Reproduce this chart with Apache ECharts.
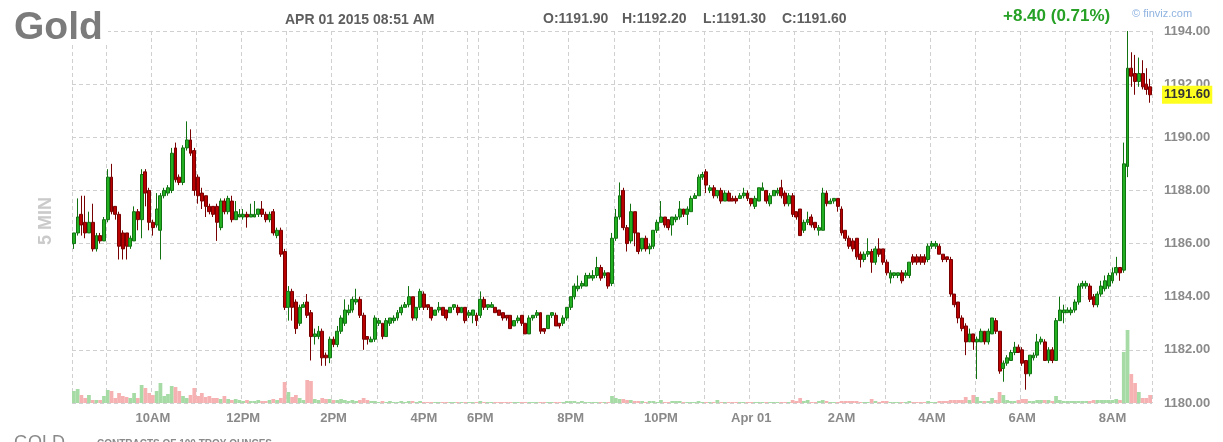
<!DOCTYPE html>
<html><head><meta charset="utf-8">
<script src="https://cdn.jsdelivr.net/npm/echarts@6/dist/echarts.min.js"></script>
<style>html,body{margin:0;padding:0;background:#fff;}#c{width:1223px;height:442px;}</style>
</head><body><div id="c"></div>
<script>
// Trading sessions (5-minute bars), UTC-like wall clock
const sessionStarts = ['2015-03-31T08:15:00Z', '2015-03-31T18:00:00Z'];
const sessionEnds   = ['2015-03-31T17:10:00Z', '2015-04-01T08:50:00Z'];
const yTicks = [1180, 1194, 2];
const lastInfo = { date: 'APR 01 2015 08:51 AM', o: '1191.90', h: '1192.20', l: '1191.30', c: '1191.60', chg: '+8.40 (0.71%)' };

const opens = [
1186.0,1186.4,1187.1,1186.8,1186.4,1186.8,1185.8,1186.3,1186.1,1186.9,
1188.5,1187.4,1187.1,1186.4,1186.4,1185.9,1186.1,1187.2,1186.9,1188.7,
1188.0,1186.8,1186.7,1186.5,1187.8,1187.9,1188.0,1189.6,1188.5,1188.3,
1189.6,1189.9,1189.5,1188.5,1187.9,1187.8,1187.4,1187.4,1187.4,1186.6,
1187.6,1187.2,1187.6,1186.9,1187.0,1187.0,1187.1,1187.0,1187.0,1187.1,
1187.3,1187.1,1186.9,1187.2,1186.3,1186.5,1185.7,1183.6,1184.2,1183.8,
1183.0,1183.6,1183.8,1183.4,1182.5,1182.5,1182.7,1181.8,1181.7,1182.4,
1182.2,1182.7,1183.0,1183.4,1183.5,1183.8,1183.9,1183.3,1182.5,1182.3,
1182.4,1183.0,1183.0,1182.5,1183.0,1183.1,1183.2,1183.4,1183.6,1183.7,
1184.0,1183.2,1183.6,1184.1,1183.7,1183.6,1183.3,1183.5,1183.6,1183.5,
1183.4,1183.6,1183.6,1183.4,1183.6,1183.3,1183.3,1183.3,1183.3,1183.9,
1183.6,1183.6,1183.6,1183.5,1183.4,1183.3,1183.3,1182.9,1183.1,1183.3,
1183.0,1182.6,1183.2,1183.3,1183.4,1182.8,1182.8,1183.3,1183.3,1183.0,
1183.0,1183.2,1183.6,1184.0,1184.3,1184.4,1184.4,1184.7,1184.7,1184.8,
1185.1,1184.8,1184.9,1184.5,1186.2,1187.0,1188.0,1186.6,1186.1,1187.2,
1186.4,1185.8,1186.2,1185.8,1185.9,1186.5,1186.8,1187.0,1186.9,1186.7,
1186.9,1187.0,1187.3,1187.1,1187.2,1187.7,1187.8,1188.5,1188.7,1188.0,
1188.1,1187.8,1188.0,1187.6,1187.9,1187.7,1187.7,1187.7,1187.8,1187.9,
1187.7,1187.4,1187.6,1188.0,1188.0,1187.5,1187.8,1187.9,1188.1,1187.9,
1187.5,1187.8,1187.2,1187.3,1186.5,1186.8,1187.0,1186.8,1186.5,1186.5,
1187.9,1187.5,1187.6,1187.7,1187.3,1186.5,1186.2,1186.1,1186.2,1185.6,
1185.4,1185.6,1185.7,1185.3,1185.8,1185.8,1185.3,1184.7,1184.8,1184.8,
1184.9,1184.8,1184.8,1185.5,1185.5,1185.5,1185.5,1185.4,1185.9,1185.9,
1185.9,1185.6,1185.5,1185.4,1184.1,1183.8,1183.2,1182.9,1182.3,1182.6,
1182.3,1182.3,1182.7,1182.3,1182.6,1183.1,1182.7,1181.3,1181.5,1181.6,
1181.9,1182.1,1182.0,1181.6,1181.1,1181.7,1181.8,1182.3,1182.3,1181.6,
1182.0,1181.6,1183.1,1183.4,1183.4,1183.4,1183.5,1183.8,1184.4,1184.4,
1184.4,1184.0,1183.7,1184.1,1184.3,1184.4,1184.6,1184.9,1185.1,1185.0,
1188.9,1192.6,1192.4,1192.1,1192.4,1192.0,1191.9];

const closes = [
1186.4,1187.0,1186.7,1186.4,1186.8,1185.8,1186.3,1186.1,1186.9,1188.5,
1187.2,1187.1,1185.9,1185.8,1185.9,1186.2,1187.2,1186.9,1188.6,1187.9,
1186.8,1186.6,1187.3,1187.8,1188.0,1188.1,1189.4,1188.4,1188.3,1189.6,
1189.9,1189.4,1188.0,1187.8,1187.6,1187.4,1187.2,1187.1,1186.8,1187.6,
1187.2,1187.7,1186.9,1187.2,1187.1,1187.1,1187.0,1187.1,1187.1,1187.3,
1187.1,1186.9,1187.1,1186.4,1186.5,1185.6,1183.6,1184.2,1183.6,1182.8,
1183.6,1183.7,1183.3,1182.5,1182.6,1182.7,1181.7,1181.7,1182.4,1182.2,
1182.7,1183.2,1183.5,1183.5,1183.9,1183.9,1183.3,1182.4,1182.4,1182.4,
1183.2,1183.1,1182.5,1183.1,1183.2,1183.2,1183.4,1183.6,1183.7,1184.0,
1183.2,1183.6,1184.2,1183.6,1183.6,1183.2,1183.5,1183.6,1183.3,1183.2,
1183.6,1183.7,1183.4,1183.6,1183.1,1183.4,1183.5,1183.1,1183.9,1183.6,
1183.7,1183.7,1183.4,1183.3,1183.2,1183.2,1182.8,1183.1,1183.2,1183.0,
1182.6,1183.2,1183.3,1183.4,1182.7,1182.7,1183.3,1183.4,1182.9,1182.9,
1183.2,1183.6,1184.0,1184.4,1184.4,1184.5,1184.8,1184.8,1184.8,1185.1,
1184.7,1184.9,1184.4,1186.2,1187.0,1187.8,1186.6,1186.0,1187.2,1186.4,
1185.7,1186.2,1185.8,1185.9,1186.5,1186.8,1187.0,1186.7,1186.6,1187.0,
1187.0,1187.3,1187.1,1187.3,1187.7,1187.8,1188.5,1188.6,1188.2,1188.1,
1187.8,1188.0,1187.6,1187.9,1187.6,1187.6,1187.6,1187.8,1187.9,1187.7,
1187.5,1187.7,1188.1,1188.1,1187.6,1187.8,1188.0,1188.0,1187.8,1187.5,
1187.8,1187.1,1187.0,1186.3,1186.8,1186.9,1186.7,1186.6,1186.6,1187.9,
1187.5,1187.6,1187.7,1187.4,1186.4,1186.2,1185.9,1185.8,1185.5,1185.4,
1185.6,1185.7,1185.3,1185.8,1185.6,1185.3,1184.9,1184.9,1184.9,1184.9,
1184.6,1184.9,1185.3,1185.3,1185.3,1185.3,1185.3,1185.9,1186.0,1186.0,
1185.6,1185.4,1185.4,1184.1,1183.7,1183.2,1182.8,1182.3,1182.6,1182.3,
1182.4,1182.7,1182.3,1182.7,1183.2,1182.7,1181.2,1181.5,1181.7,1181.9,
1182.1,1181.9,1181.5,1181.1,1181.8,1181.8,1182.3,1182.4,1181.6,1182.0,
1181.6,1183.1,1183.5,1183.5,1183.5,1183.5,1183.8,1184.4,1184.5,1184.5,
1183.9,1183.7,1184.1,1184.4,1184.6,1184.8,1184.9,1185.1,1184.9,1189.0,
1192.6,1192.3,1192.1,1192.4,1191.9,1191.8,1191.6];

const lows = [
1185.8,1186.3,1186.3,1186.2,1186.4,1185.7,1185.7,1186.0,1186.1,1186.8,
1187.1,1186.9,1185.4,1185.4,1185.4,1185.8,1186.1,1186.5,1186.2,1187.4,
1186.5,1186.3,1186.6,1185.4,1187.7,1187.8,1187.9,1188.3,1188.2,1188.2,
1189.5,1189.3,1187.8,1187.5,1187.3,1187.0,1187.1,1187.0,1186.1,1186.5,
1187.1,1187.1,1186.8,1186.9,1187.0,1186.9,1186.6,1187.0,1187.0,1187.0,
1187.0,1186.8,1186.8,1186.3,1186.2,1185.5,1183.5,1183.1,1183.1,1182.6,
1182.9,1183.6,1183.2,1181.6,1182.2,1182.4,1181.4,1181.4,1181.5,1182.1,
1182.1,1182.6,1182.9,1183.3,1183.4,1183.7,1183.2,1182.0,1182.2,1182.3,
1182.3,1182.9,1182.4,1182.5,1182.9,1183.0,1183.1,1183.3,1183.6,1183.6,
1183.1,1183.1,1183.5,1183.5,1183.5,1183.1,1183.3,1183.4,1183.3,1183.1,
1183.4,1183.5,1183.3,1183.4,1183.0,1183.2,1183.0,1182.9,1183.2,1183.5,
1183.5,1183.6,1183.4,1183.3,1183.1,1183.1,1182.8,1182.9,1183.0,1182.9,
1182.6,1182.6,1183.1,1183.2,1182.6,1182.6,1182.8,1183.2,1182.9,1182.8,
1182.9,1183.1,1183.5,1183.9,1184.2,1184.3,1184.4,1184.7,1184.6,1184.7,
1184.6,1184.7,1184.3,1184.4,1186.1,1186.9,1186.5,1185.7,1186.0,1185.9,
1185.6,1185.7,1185.7,1185.6,1185.8,1186.4,1186.8,1186.6,1186.5,1186.3,
1186.8,1186.9,1187.0,1186.7,1187.2,1187.7,1187.8,1188.4,1187.9,1187.9,
1187.7,1187.7,1187.5,1187.6,1187.6,1187.6,1187.5,1187.7,1187.7,1187.6,
1187.4,1187.3,1187.6,1188.0,1187.5,1187.4,1187.8,1187.8,1187.7,1187.4,
1187.4,1187.0,1186.9,1186.3,1186.4,1186.7,1186.6,1186.5,1186.3,1186.5,
1187.4,1187.5,1187.5,1187.2,1186.3,1186.1,1185.8,1185.7,1185.4,1185.1,
1185.3,1185.5,1184.9,1185.2,1185.5,1185.2,1184.8,1184.5,1184.7,1184.7,
1184.5,1184.7,1184.7,1185.2,1185.2,1185.2,1185.2,1185.3,1185.8,1185.8,
1185.6,1185.3,1185.3,1184.0,1183.6,1183.0,1182.7,1181.8,1182.3,1182.0,
1180.9,1182.3,1182.2,1182.2,1182.6,1182.6,1181.1,1180.8,1181.4,1181.6,
1181.8,1181.9,1181.4,1180.5,1181.0,1181.6,1181.7,1182.2,1181.6,1181.5,
1181.5,1181.6,1183.1,1183.0,1183.4,1183.3,1183.4,1183.7,1184.3,1184.3,
1183.8,1183.6,1183.6,1184.0,1184.2,1184.3,1184.5,1184.8,1184.6,1184.9,
1188.5,1191.9,1191.6,1191.9,1191.8,1191.6,1191.3];

const highs = [
1186.4,1187.7,1187.8,1187.8,1187.2,1187.5,1186.4,1186.4,1187.0,1188.8,
1189.0,1187.4,1187.2,1186.5,1186.4,1186.3,1187.4,1187.3,1188.8,1188.8,
1188.1,1186.9,1187.9,1187.9,1188.1,1188.2,1189.6,1189.8,1188.6,1189.7,
1190.6,1190.3,1189.6,1188.6,1188.1,1187.8,1187.5,1187.4,1187.5,1187.7,
1187.7,1187.8,1187.8,1187.6,1187.3,1187.3,1187.2,1187.5,1187.6,1187.3,
1187.6,1187.2,1187.2,1187.3,1186.6,1186.6,1185.8,1184.4,1184.3,1183.9,
1183.7,1183.8,1184.1,1183.5,1182.8,1182.9,1182.8,1181.9,1182.5,1182.5,
1182.9,1183.3,1183.9,1183.7,1184.0,1184.3,1184.0,1183.4,1182.5,1182.5,
1183.3,1183.2,1183.0,1183.2,1183.2,1183.3,1183.5,1183.7,1183.8,1184.4,
1184.0,1183.6,1184.3,1184.2,1183.7,1183.6,1183.5,1183.8,1183.6,1183.5,
1183.6,1183.7,1183.7,1183.6,1183.6,1183.5,1183.5,1183.4,1184.2,1184.0,
1183.7,1183.8,1183.6,1183.5,1183.4,1183.3,1183.3,1183.1,1183.3,1183.3,
1183.0,1183.3,1183.3,1183.5,1183.4,1182.8,1183.3,1183.4,1183.4,1183.0,
1183.3,1183.6,1184.0,1184.5,1184.8,1184.6,1184.9,1184.9,1185.0,1185.5,
1185.2,1185.0,1184.9,1186.4,1187.3,1188.3,1188.1,1186.7,1187.5,1187.2,
1186.4,1186.2,1186.3,1186.0,1186.5,1186.9,1187.6,1187.0,1186.9,1187.0,
1187.1,1187.6,1187.3,1187.4,1187.8,1187.9,1188.6,1188.7,1188.8,1188.2,
1188.2,1188.0,1188.1,1188.0,1188.0,1187.8,1187.8,1187.9,1188.1,1188.0,
1187.7,1187.8,1188.1,1188.3,1188.0,1187.9,1188.0,1188.1,1188.4,1188.0,
1187.9,1187.9,1187.2,1187.3,1186.9,1187.2,1187.1,1186.8,1186.7,1188.1,
1188.0,1187.7,1187.7,1187.7,1187.4,1186.5,1186.3,1186.2,1186.2,1185.7,
1185.7,1186.2,1185.8,1185.9,1186.2,1185.8,1185.4,1185.0,1184.9,1184.9,
1185.0,1185.0,1185.3,1185.6,1185.6,1185.6,1185.6,1186.0,1186.1,1186.1,
1186.0,1185.6,1185.5,1185.5,1184.1,1183.8,1183.3,1183.0,1182.8,1182.6,
1182.5,1182.8,1182.7,1182.8,1183.2,1183.2,1182.7,1181.6,1181.8,1182.0,
1182.3,1182.2,1182.1,1181.6,1181.8,1181.9,1182.6,1182.5,1182.4,1182.1,
1182.1,1183.2,1184.0,1183.7,1183.6,1183.6,1183.9,1184.5,1184.6,1184.6,
1184.5,1184.1,1184.2,1184.6,1184.8,1184.9,1185.1,1185.5,1185.1,1189.8,
1194.0,1193.2,1193.1,1193.0,1192.9,1192.6,1192.2];

const volumes = [
600,700,400,250,400,150,150,150,350,650,
600,250,500,350,300,250,500,250,900,750,
500,400,600,1000,350,450,850,800,600,350,
250,400,750,350,500,300,350,250,250,200,
350,200,150,200,150,100,150,100,100,150,
100,100,150,200,150,250,1050,550,300,400,
250,150,1150,1100,200,150,250,200,200,150,
150,200,150,100,150,100,150,250,150,100,
100,50,100,50,100,50,50,100,50,100,
100,50,100,50,50,50,50,50,50,50,
50,50,50,50,50,50,50,50,100,50,
50,50,50,50,50,50,50,50,50,50,
50,50,50,50,50,50,50,50,50,50,
50,100,100,100,50,100,50,50,50,50,
50,50,50,350,250,200,200,150,150,100,
100,100,50,100,100,50,150,50,50,100,
100,100,50,50,50,50,100,50,50,50,
50,150,50,50,50,50,50,50,50,50,
50,50,50,50,50,50,50,50,50,50,
50,150,100,250,100,150,50,50,100,150,
100,50,50,50,100,100,100,100,100,50,
50,50,200,100,50,100,100,50,50,50,
50,50,100,50,50,50,50,100,50,50,
100,100,100,150,150,150,150,300,150,400,
300,100,100,100,250,150,550,400,150,100,
100,150,200,200,100,100,150,150,150,150,
100,350,150,100,100,100,100,100,100,100,
100,150,150,150,150,150,150,200,150,2550,
3650,1450,1000,550,250,250,400];

// ---- build categories (5-minute bar times) ----
const times = [];
for (let s = 0; s < sessionStarts.length; s++) {
  const t0 = Date.parse(sessionStarts[s]), t1 = Date.parse(sessionEnds[s]);
  for (let t = t0; t <= t1; t += 300000) times.push(String(t));
}
const MONTHS = ['Jan','Feb','Mar','Apr','May','Jun','Jul','Aug','Sep','Oct','Nov','Dec'];
function hm(v){ const d = new Date(+v); return [d.getUTCHours(), d.getUTCMinutes(), d]; }
function fmtLabel(v){
  const [h, m, d] = hm(v);
  if (h === 0) return MONTHS[d.getUTCMonth()] + ' ' + String(d.getUTCDate()).padStart(2,'0');
  return (h % 12 === 0 ? 12 : h % 12) + (h < 12 ? 'AM' : 'PM');
}

const candleData = opens.map((o, i) => [o, closes[i], lows[i], highs[i]]);
const volData = volumes.map((v, i) => ({
  value: v,
  itemStyle: { color: closes[i] >= opens[i] ? '#a6dba6' : '#f6b2b2' }
}));

const gridLine = { color: '#d0d0d0', width: 1, type: [4, 3] };
const FONT = 'Arial, "Liberation Sans", sans-serif';

const chart = echarts.init(document.getElementById('c'), null, { renderer: 'canvas' });
chart.setOption({
  animation: false,
  backgroundColor: '#ffffff',
  grid: { left: 72, right: 71, top: 31, bottom: 39, containLabel: false },
  xAxis: [{
    type: 'category', data: times, boundaryGap: true,
    axisLine: { show: false }, axisTick: { show: false },
    axisLabel: {
      interval: (i, v) => { const [h, m] = hm(v); return m === 0 && h % 2 === 0; },
      formatter: fmtLabel, color: '#8a8a8a', fontWeight: 'bold', fontSize: 13, fontFamily: FONT, margin: 9
    },
    splitLine: { show: true, interval: (i, v) => i === 0 || hm(v)[1] === 0, lineStyle: gridLine }
  }],
  yAxis: [{
    type: 'value', position: 'right', min: yTicks[0], max: yTicks[1], interval: yTicks[2], scale: true,
    axisLine: { show: false }, axisTick: { show: false },
    axisLabel: { formatter: v => v.toFixed(2), color: '#8a8a8a', fontWeight: 'bold', fontSize: 13, fontFamily: FONT, margin: 12 },
    splitLine: { show: true, lineStyle: gridLine }
  }, {
    type: 'value', min: 0, max: 18600, show: false, splitLine: { show: false }
  }],
  series: [{
    type: 'bar', xAxisIndex: 0, yAxisIndex: 1, data: volData,
    barCategoryGap: '0%', barGap: '0%', z: 1, silent: true
  }, {
    type: 'candlestick', xAxisIndex: 0, yAxisIndex: 0, data: candleData, barWidth: 3.4, z: 3,
    itemStyle: { color: '#22b022', color0: '#b80000', borderColor: '#117211', borderColor0: '#780000', borderWidth: 1 }
  }, {
    type: 'line', xAxisIndex: 0, yAxisIndex: 0, data: [], silent: true, z: 10,
    markLine: {
      silent: true, symbol: ['none', 'none'], animation: false,
      lineStyle: { color: 'rgba(0,0,0,0)', width: 1, type: 'solid' },
      emphasis: { disabled: true },
      data: [{ yAxis: closes[closes.length - 1] }],
      label: {
        show: true, position: 'end', distance: 10,
        formatter: p => Number(p.value).toFixed(2),
        backgroundColor: '#ffff1f', color: '#333333', fontWeight: 'bold', fontSize: 13, fontFamily: FONT,
        padding: [3, 2, 2, 2]
      }
    }
  }],
  graphic: [
    { type: 'rect', shape: { x: 8, y: 4, width: 100, height: 41 }, style: { fill: '#ffffff' }, z: 50 },
    { type: 'text', x: 14, y: 28, z: 51, style: { text: 'Gold', fill: '#7b7b7b', font: 'bold 39px ' + FONT, textVerticalAlign: 'middle' } },
    { type: 'text', x: 285, y: 20, style: { text: lastInfo.date, fill: '#5e5e5e', font: 'bold 14px ' + FONT, textVerticalAlign: 'middle' } },
    { type: 'text', x: 543, y: 19, style: { text: 'O:' + lastInfo.o, fill: '#5e5e5e', font: 'bold 14px ' + FONT, textVerticalAlign: 'middle' } },
    { type: 'text', x: 622, y: 19, style: { text: 'H:' + lastInfo.h, fill: '#5e5e5e', font: 'bold 14px ' + FONT, textVerticalAlign: 'middle' } },
    { type: 'text', x: 703, y: 19, style: { text: 'L:' + lastInfo.l, fill: '#5e5e5e', font: 'bold 14px ' + FONT, textVerticalAlign: 'middle' } },
    { type: 'text', x: 782, y: 19, style: { text: 'C:' + lastInfo.c, fill: '#5e5e5e', font: 'bold 14px ' + FONT, textVerticalAlign: 'middle' } },
    { type: 'text', x: 1003, y: 16, style: { text: lastInfo.chg, fill: '#26a126', font: 'bold 17px ' + FONT, textVerticalAlign: 'middle' } },
    { type: 'text', x: 1132, y: 14, style: { text: '© finviz.com', fill: '#8fb3e0', font: '11px ' + FONT, textVerticalAlign: 'middle' } },
    { type: 'text', x: 46, y: 221, rotation: Math.PI / 2, style: { text: '5 MIN', fill: '#cacaca', font: 'bold 18px ' + FONT, textAlign: 'center', textVerticalAlign: 'middle' } },
    { type: 'text', x: 14, y: 443, style: { text: 'GOLD', fill: '#8a8a8a', font: '18px ' + FONT, textVerticalAlign: 'middle' } },
    { type: 'text', x: 97, y: 444, style: { text: 'CONTRACTS OF 100 TROY OUNCES', fill: '#8a8a8a', font: 'bold 10px ' + FONT, textVerticalAlign: 'middle' } }
  ]
});
</script></body></html>
